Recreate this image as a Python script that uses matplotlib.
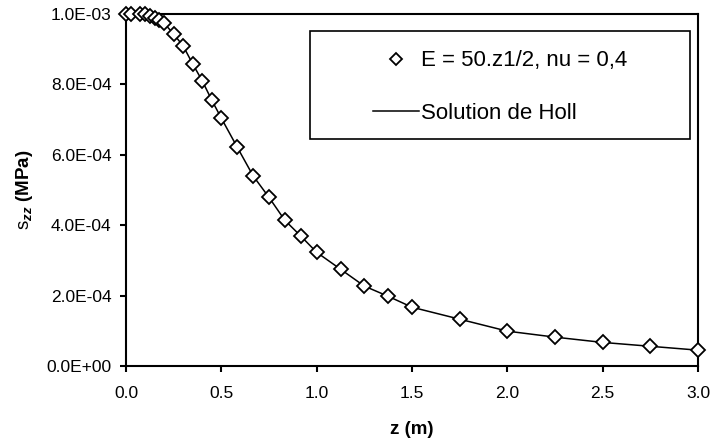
import matplotlib
matplotlib.use("Agg")
import matplotlib.pyplot as plt
from matplotlib.patches import Rectangle

plt.rcParams['font.family'] = ['Liberation Sans', 'DejaVu Sans']
plt.rcParams['mathtext.fontset'] = 'custom'
plt.rcParams['mathtext.rm'] = 'Liberation Sans'
plt.rcParams['mathtext.bf'] = 'Liberation Sans:bold:italic'

# depth z (m) and vertical stress (MPa)
z = [0.0, 0.025, 0.075, 0.1, 0.125, 0.15, 0.175, 0.2, 0.25, 0.3, 0.35, 0.4,
     0.45, 0.5, 0.583, 0.667, 0.75, 0.833, 0.917, 1.0, 1.125, 1.25, 1.375,
     1.5, 1.75, 2.0, 2.25, 2.5, 2.75, 3.0]
sigma_fem = [1.0e-3, 1.0e-3, 1.0e-3, 0.999e-3, 0.994e-3, 0.989e-3, 0.983e-3,
             0.974e-3, 0.943e-3, 0.909e-3, 0.858e-3, 0.81e-3, 0.755e-3,
             0.704e-3, 0.622e-3, 0.54e-3, 0.479e-3, 0.414e-3, 0.369e-3,
             0.323e-3, 0.275e-3, 0.227e-3, 0.198e-3, 0.167e-3, 0.133e-3,
             0.099e-3, 0.082e-3, 0.067e-3, 0.056e-3, 0.045e-3]
sigma_holl = sigma_fem

xticks = [0.0, 0.5, 1.0, 1.5, 2.0, 2.5, 3.0]
yticks = [0.0, 2e-4, 4e-4, 6e-4, 8e-4, 1e-3]
ytick_labels = ['0.0E+00', '2.0E-04', '4.0E-04', '6.0E-04', '8.0E-04', '1.0E-03']

fig = plt.figure(figsize=(7.1, 4.43), dpi=100)
ax = fig.add_axes([126 / 710, 1 - 366 / 443, 572 / 710, 352 / 443])

ax.plot(z, sigma_holl, color='black', linewidth=1.1, label='Solution de Holl',
        zorder=2)
ax.plot(z, sigma_fem, linestyle='none', marker='D', markersize=7,
        markerfacecolor='white', markeredgecolor='black', markeredgewidth=1.3,
        label='E = 50.z1/2, nu = 0,4', clip_on=False, zorder=3)

ax.set_xlim(0, 3.0)
ax.set_ylim(0, 1e-3)
ax.set_xticks(xticks)
ax.set_xticklabels([f'{t:.1f}' for t in xticks])
ax.set_yticks(yticks)
ax.set_yticklabels(ytick_labels)
ax.tick_params(direction='out', length=4.5, width=1.5, labelsize=12.5)
ax.tick_params(axis='x', pad=10)
ax.tick_params(axis='y', pad=6)
for s in ax.spines.values():
    s.set_linewidth(1.5)

ax.set_xlabel('z (m)', fontsize=13.5, fontweight='bold', labelpad=14)
ax.set_ylabel(r'$\mathrm{s}_{\mathbf{zz}}$ (MPa)', fontsize=13.5,
              fontweight='bold', labelpad=8)

# legend box drawn separately so its size matches the original
ax.add_patch(Rectangle((184 / 572, 1 - 125 / 352), 380 / 572, 108 / 352,
                       transform=ax.transAxes, facecolor='white',
                       edgecolor='black', linewidth=1.2, zorder=4))
handles, labels = ax.get_legend_handles_labels()
leg = ax.legend(handles[::-1], labels[::-1], loc='upper left',
                bbox_to_anchor=(247 / 572, 1 - 36.4 / 352), frameon=False,
                fontsize=16, handlelength=2.07, handletextpad=0.1,
                borderpad=0, borderaxespad=0, labelspacing=1.43,
                markerscale=0.85)
leg.set_zorder(5)

fig.savefig('out.png', dpi=100)
